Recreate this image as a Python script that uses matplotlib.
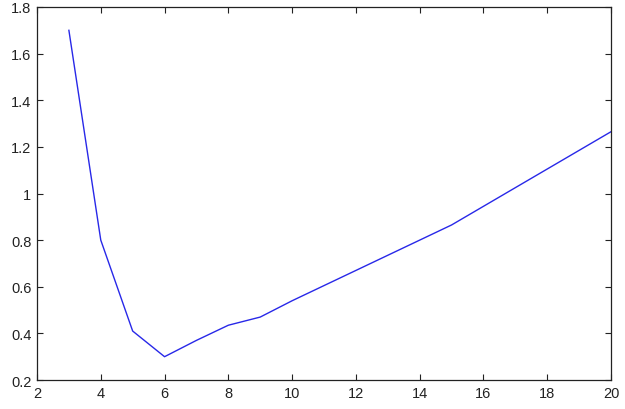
import matplotlib
matplotlib.use('Agg')
import matplotlib.pyplot as plt

# values
x = [3, 4, 5, 6, 7, 8, 9, 10, 11, 12, 13, 14, 15, 16, 17, 18, 19, 20]
y = [1.70, 0.80, 0.41, 0.30, 0.37, 0.435, 0.47, 0.54, 0.605, 0.67, 0.735, 0.80, 0.865, 0.945, 1.025, 1.105, 1.185, 1.265]

xticks = [2, 4, 6, 8, 10, 12, 14, 16, 18, 20]
yticks = [0.2, 0.4, 0.6, 0.8, 1.0, 1.2, 1.4, 1.6, 1.8]
ylabels = ['0.2', '0.4', '0.6', '0.8', '1', '1.2', '1.4', '1.6', '1.8']

plt.rcParams['font.family'] = ['Liberation Sans', 'DejaVu Sans']

fig = plt.figure(figsize=(6.25, 4.1), dpi=100)
ax = fig.add_axes([0.0592, 0.0707, 0.9184, 0.9098])

ax.plot(x, y, c='#2828e8', lw=1)

ax.set_xlim(2, 20)
ax.set_ylim(0.2, 1.8)
ax.set_xticks(xticks)
ax.set_yticks(yticks)
ax.set_yticklabels(ylabels)

ax.tick_params(direction='in', top=True, right=True, length=4,
               width=0.8, labelsize=10.5, colors='#222222', pad=4)
for s in ax.spines.values():
    s.set_color('#222222')
    s.set_linewidth(0.9)

plt.savefig('out.png', dpi=100)
